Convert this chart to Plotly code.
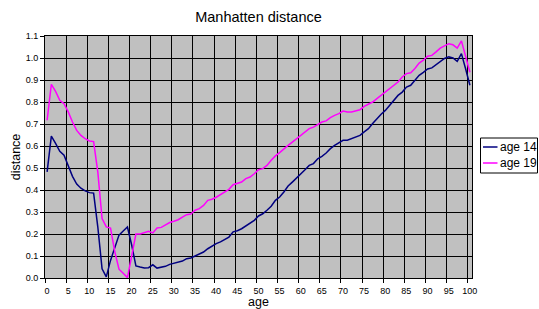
import plotly.graph_objects as go

AGES = list(range(0, 101))

AGE_14 = [
    0.482, 0.645, 0.612, 0.576, 0.558, 0.508, 0.462, 0.427, 0.408, 0.396,
    0.388, 0.386, 0.230, 0.042, 0.005, 0.080, 0.142, 0.195, 0.214, 0.232,
    0.150, 0.055, 0.050, 0.046, 0.047, 0.060, 0.045, 0.048, 0.053, 0.062,
    0.068, 0.073, 0.077, 0.088, 0.091, 0.100, 0.109, 0.118, 0.133, 0.146,
    0.156, 0.164, 0.174, 0.186, 0.210, 0.215, 0.224, 0.236, 0.247, 0.262,
    0.282, 0.292, 0.308, 0.326, 0.353, 0.368, 0.391, 0.418, 0.436, 0.454,
    0.470, 0.492, 0.512, 0.520, 0.542, 0.553, 0.568, 0.588, 0.603, 0.614,
    0.626, 0.626, 0.633, 0.641, 0.648, 0.664, 0.679, 0.702, 0.724, 0.744,
    0.762, 0.785, 0.808, 0.830, 0.845, 0.868, 0.876, 0.898, 0.921, 0.935,
    0.950, 0.955, 0.968, 0.985, 0.998, 1.005, 1.000, 0.985, 1.020, 0.950,
    0.876,
]

AGE_19 = [
    0.717, 0.880, 0.848, 0.808, 0.792, 0.755, 0.709, 0.671, 0.648, 0.633,
    0.623, 0.620, 0.480, 0.270, 0.232, 0.227, 0.120, 0.040, 0.022, 0.002,
    0.100, 0.200, 0.200, 0.206, 0.212, 0.205, 0.227, 0.230, 0.240, 0.252,
    0.258, 0.265, 0.277, 0.288, 0.291, 0.308, 0.315, 0.330, 0.353, 0.358,
    0.367, 0.379, 0.391, 0.403, 0.424, 0.429, 0.436, 0.452, 0.459, 0.474,
    0.492, 0.497, 0.512, 0.535, 0.555, 0.570, 0.588, 0.603, 0.618, 0.633,
    0.648, 0.664, 0.679, 0.686, 0.698, 0.709, 0.714, 0.729, 0.739, 0.747,
    0.759, 0.755, 0.755, 0.759, 0.765, 0.780, 0.789, 0.800, 0.815, 0.830,
    0.845, 0.861, 0.876, 0.891, 0.914, 0.929, 0.933, 0.952, 0.977, 0.990,
    1.008, 1.012, 1.028, 1.045, 1.055, 1.065, 1.060, 1.045, 1.078, 1.005,
    0.935,
]

SERIES_NAMES = ["age 14", "age 19"]
SERIES_COLORS = ["#000080", "#FF00FF"]

X_TICK_LABELS = [str(v) for v in range(0, 101, 5)]
# category-axis style: ticks/gridlines sit at category boundaries
X_TICK_POS = [v - 0.5 for v in range(0, 101, 5)]

FONT = "Liberation Sans, Arial, sans-serif"
W, H = 539, 309
ML, MR, MT, MB = 45, 67, 36, 31
PW, PH = W - ML - MR, H - MT - MB


def px_x(px):
    return (px - ML) / PW


def px_y(py):
    return (H - MB - py) / PH


fig = go.Figure()
for name, ys, col in zip(SERIES_NAMES, [AGE_14, AGE_19], SERIES_COLORS):
    fig.add_trace(go.Scatter(x=AGES, y=ys, mode="lines", name=name,
                             line=dict(color=col, width=1.5), showlegend=False))

# compact legend drawn like the original (box, short line samples, labels)
shapes = [dict(type="rect", xref="paper", yref="paper",
               x0=px_x(480.5), x1=px_x(537.5), y0=px_y(173), y1=px_y(138),
               line=dict(color="black", width=1), fillcolor="white", layer="above")]
annotations = []
for i, (name, col) in enumerate(zip(SERIES_NAMES, SERIES_COLORS)):
    yy = 147 + 16 * i
    shapes.append(dict(type="line", xref="paper", yref="paper",
                       x0=px_x(483), x1=px_x(497.5), y0=px_y(yy), y1=px_y(yy),
                       line=dict(color=col, width=1.5), layer="above"))
    annotations.append(dict(xref="paper", yref="paper", x=px_x(497.5), y=px_y(yy),
                            xanchor="left", yanchor="middle", text=name,
                            showarrow=False,
                            font=dict(size=12, family=FONT, color="black")))

fig.update_layout(
    width=W, height=H,
    margin=dict(l=ML, r=MR, t=MT, b=MB, autoexpand=False),
    paper_bgcolor="white",
    plot_bgcolor="#C0C0C0",
    font=dict(family=FONT, color="black"),
    title=dict(text="Manhatten distance", x=(ML + W - MR) / 2 / W, xanchor="center",
               y=1 - 17 / H, yanchor="middle",
               font=dict(size=14.5, family=FONT, color="black")),
    showlegend=False,
    shapes=shapes,
    annotations=annotations,
    xaxis=dict(
        range=[-0.5, 100.5], tickmode="array", tickvals=X_TICK_POS,
        ticktext=X_TICK_LABELS, ticklabelshift=2,
        showgrid=True, gridcolor="black", gridwidth=1,
        ticks="outside", ticklen=4, tickcolor="black",
        showline=True, linecolor="black", linewidth=1, mirror=True,
        zeroline=False, tickfont=dict(size=9, family=FONT),
        title=dict(text="age", font=dict(size=12.5, family=FONT), standoff=2),
    ),
    yaxis=dict(
        range=[0, 1.1], tickmode="linear", tick0=0, dtick=0.1, tickformat=".1f",
        showgrid=True, gridcolor="black", gridwidth=1,
        ticks="outside", ticklen=4, tickcolor="black",
        showline=True, linecolor="black", linewidth=1, mirror=True,
        zeroline=False, tickfont=dict(size=9, family=FONT),
        title=dict(text="distance", font=dict(size=12.5, family=FONT), standoff=2),
    ),
)

fig.write_html(
    "out.html",
    config={"displayModeBar": False},
    post_script="document.body.style.margin='0';document.body.style.overflow='hidden';",
)
